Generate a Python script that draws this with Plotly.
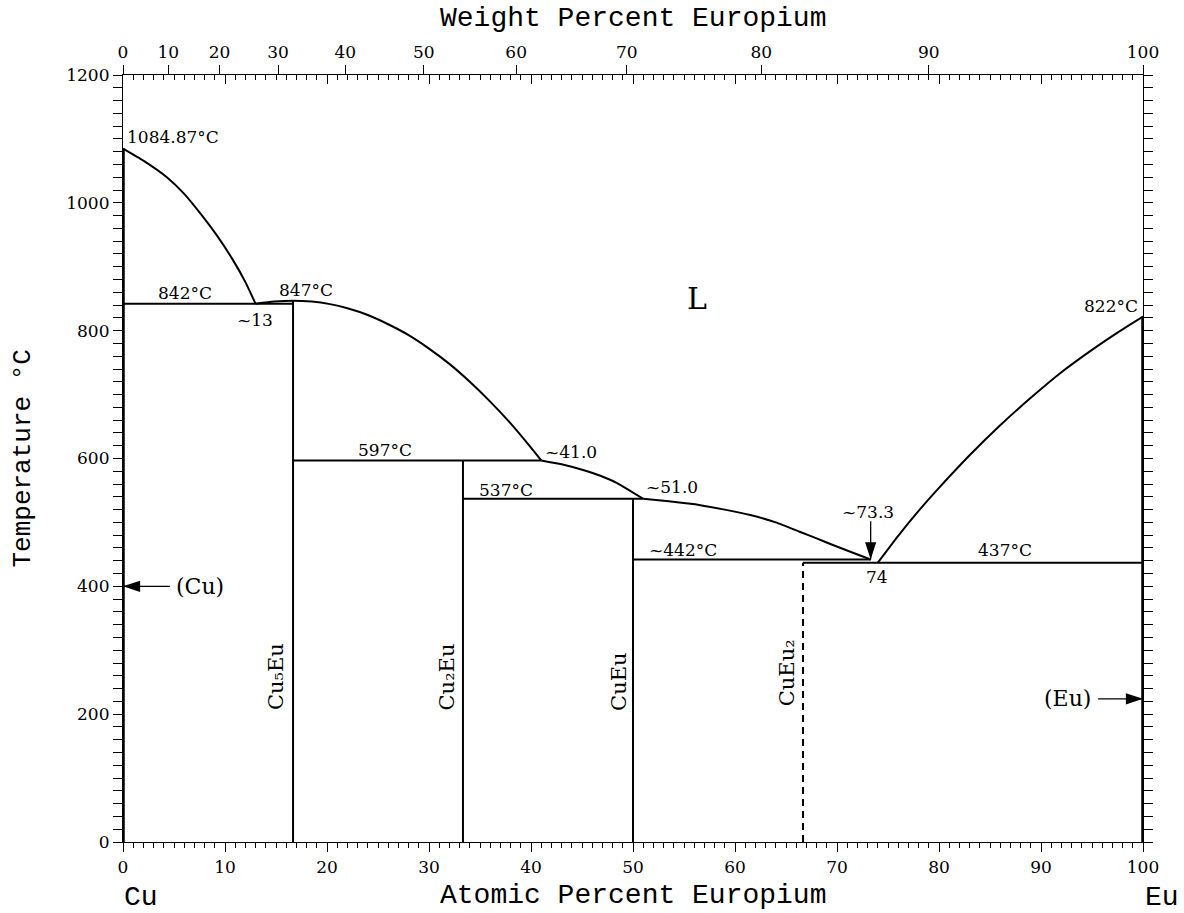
import plotly.graph_objects as go

# ---------------- data (atomic % Eu, temperature °C) ----------------
cu_liq_x = [0.0, 2.0, 4.3, 6.0, 7.6, 9.2, 10.8, 12.0, 13.0]
cu_liq_t = [1084.87, 1066, 1040, 1014, 983, 949, 910, 876, 842]

cu5eu_liq_x = [13.0, 14.8, 16.7, 18.5, 20.3, 22.0, 24.0, 26.0, 28.0, 30.0, 32.0, 34.0, 36.0, 38.0, 40.0, 41.0]
cu5eu_liq_t = [842, 845.5, 847, 845.6, 841.5, 835, 824.5, 810, 793, 772, 748, 720, 689, 655, 617, 597]

cu2eu_liq_x = [41.0, 43.0, 45.1, 46.8, 48.4, 51.0]
cu2eu_liq_t = [597, 591, 582, 573, 562, 537]

cueu_liq_x = [51.0, 53.5, 56.6, 59.0, 61.5, 64.0, 66.4, 68.0, 69.6, 71.5, 73.3]
cueu_liq_t = [537, 533, 527, 520, 511.6, 500, 485, 475, 464.6, 453, 442]

eu_liq_x = [74.0, 76.0, 78.0, 80.0, 83.0, 86.0, 89.0, 92.0, 95.0, 97.5, 100.0]
eu_liq_t = [437, 479, 518, 554, 605, 652, 695, 735, 770, 797, 822]

# invariant horizontals
iso_t = [842, 597, 537, 442, 437]
iso_x0 = [0.0, 16.67, 33.33, 50.0, 66.67]
iso_x1 = [16.67, 41.0, 51.0, 73.3, 100.0]

# compounds (vertical lines)
comp_names = ["Cu₅Eu", "Cu₂Eu", "CuEu", "CuEu₂"]
comp_x = [16.67, 33.33, 50.0, 66.67]
comp_top = [847, 597, 537, 437]
comp_dashed = [False, False, False, True]
comp_label_x = [15.0, 31.8, 48.6, 65.1]
comp_label_t = [258, 258, 250, 264]

# pure elements
pure_x = [0.0, 100.0]
pure_top = [1084.87, 822]

# weight-percent ticks
wt_ticks = [0, 10, 20, 30, 40, 50, 60, 70, 80, 90, 100]
M_CU, M_EU = 63.546, 151.964

# text labels: (text, x, y, xanchor)
labels = [
    ("1084.87°C", 0.2, 1103, "left"),
    ("842°C", 6.1, 859, "center"),
    ("~13", 12.9, 817, "center"),
    ("847°C", 17.9, 864, "center"),
    ("822°C", 99.7, 838, "right"),
    ("597°C", 25.7, 613, "center"),
    ("~41.0", 41.2, 610, "left"),
    ("537°C", 37.5, 551, "center"),
    ("~51.0", 51.1, 555, "left"),
    ("~442°C", 54.9, 457, "center"),
    ("~73.3", 73.0, 516, "center"),
    ("74", 73.9, 414, "center"),
    ("437°C", 86.5, 457, "center"),
]
phase_labels = [("(Cu)", 7.5, 399), ("(Eu)", 92.6, 224)]

# arrows: head (x, t), tail (x, t), head direction angle
arrow_head_x = [0.0, 100.0, 73.3]
arrow_head_t = [400, 224, 442]
arrow_tail_x = [4.6, 95.6, 73.3]
arrow_tail_t = [400, 224, 502]
arrow_angle = [270, 90, 180]


def wt_to_at(w):
    a = w / M_EU
    c = (100 - w) / M_CU
    return 100 * a / (a + c)


fig = go.Figure()

LINE = dict(color="black", width=2)

for xs, ts in [(cu_liq_x, cu_liq_t), (cu5eu_liq_x, cu5eu_liq_t), (cu2eu_liq_x, cu2eu_liq_t),
               (cueu_liq_x, cueu_liq_t), (eu_liq_x, eu_liq_t)]:
    fig.add_trace(go.Scatter(x=xs, y=ts, mode="lines",
                             line=dict(color="black", width=2, shape="spline", smoothing=0.5),
                             showlegend=False, hoverinfo="skip"))

for t, x0, x1 in zip(iso_t, iso_x0, iso_x1):
    fig.add_trace(go.Scatter(x=[x0, x1], y=[t, t], mode="lines", line=LINE, showlegend=False, hoverinfo="skip"))

for x, top, d in zip(comp_x, comp_top, comp_dashed):
    fig.add_trace(go.Scatter(x=[x, x], y=[0, top], mode="lines",
                             line=dict(color="black", width=2, dash="7px,5px" if d else "solid"),
                             showlegend=False, hoverinfo="skip"))

for x, top in zip(pure_x, pure_top):
    fig.add_trace(go.Scatter(x=[x, x], y=[0, top], mode="lines", line=dict(color="black", width=3.5),
                             showlegend=False, hoverinfo="skip"))

# arrows drawn as line + arrow marker
for hx, ht, tx, tt, ang in zip(arrow_head_x, arrow_head_t, arrow_tail_x, arrow_tail_t, arrow_angle):
    fig.add_trace(go.Scatter(x=[tx, hx], y=[tt, ht], mode="lines", line=dict(color="black", width=1.3),
                             showlegend=False, hoverinfo="skip"))
    fig.add_trace(go.Scatter(x=[hx], y=[ht], mode="markers",
                             marker=dict(symbol="arrow", angle=ang, size=18, color="black",
                                         line=dict(width=0)),
                             showlegend=False, hoverinfo="skip"))

# dummy traces for overlay top axes
fig.add_trace(go.Scatter(x=[None], y=[None], mode="lines", xaxis="x2", yaxis="y", showlegend=False,
                         hoverinfo="skip"))
fig.add_trace(go.Scatter(x=[None], y=[None], mode="lines", xaxis="x3", yaxis="y", showlegend=False,
                         hoverinfo="skip"))

SERIF = "DejaVu Serif, serif"
MONO = "Liberation Mono, monospace"

ann = []
for txt, x, y, xa in labels:
    ann.append(dict(x=x, y=y, xref="x", yref="y", text=txt, showarrow=False, xanchor=xa, yanchor="middle",
                    font=dict(family=SERIF, size=17, color="black")))
for txt, x, y in phase_labels:
    ann.append(dict(x=x, y=y, xref="x", yref="y", text=txt, showarrow=False, xanchor="center",
                    yanchor="middle", font=dict(family=SERIF, size=22, color="black")))

ann.append(dict(x=56.3, y=851, xref="x", yref="y", text="L", showarrow=False,
                font=dict(family=SERIF, size=30, color="black")))

for name, x, y in zip(comp_names, comp_label_x, comp_label_t):
    ann.append(dict(x=x, y=y, xref="x", yref="y", text=name, showarrow=False, textangle=-90,
                    xanchor="center", yanchor="middle", font=dict(family=SERIF, size=21, color="black")))

# axis titles & element labels
ann += [
    dict(x=0.5, y=-0.07, xref="paper", yref="paper", text="Atomic Percent Europium", showarrow=False,
         xanchor="center", yanchor="middle", font=dict(family=MONO, size=28, color="black")),
    dict(x=0.5, y=1.0743, xref="paper", yref="paper", text="Weight Percent Europium", showarrow=False,
         xanchor="center", yanchor="middle", font=dict(family=MONO, size=28, color="black")),
    dict(x=-0.099, y=0.5, xref="paper", yref="paper", text="Temperature °C", showarrow=False, textangle=-90,
         xanchor="center", yanchor="middle", font=dict(family=MONO, size=26, color="black")),
    dict(x=0.0176, y=-0.072, xref="paper", yref="paper", text="Cu", showarrow=False,
         xanchor="center", yanchor="middle", font=dict(family=MONO, size=28, color="black")),
    dict(x=1.019, y=-0.072, xref="paper", yref="paper", text="Eu", showarrow=False,
         xanchor="center", yanchor="middle", font=dict(family=MONO, size=28, color="black")),
]

TICKFONT = dict(family=SERIF, size=17, color="black")

fig.update_layout(
    width=1184, height=913,
    margin=dict(l=123, r=41, t=75, b=71),
    paper_bgcolor="white", plot_bgcolor="white",
    showlegend=False,
    annotations=ann,
    xaxis=dict(range=[0, 100], tickmode="linear", tick0=0, dtick=10, ticks="outside", ticklen=9,
               tickwidth=1, tickcolor="black", showline=True, linecolor="black", linewidth=1.2,
               showgrid=False, zeroline=False, tickfont=TICKFONT,
               minor=dict(dtick=1, ticks="outside", ticklen=5, tickcolor="black", showgrid=False)),
    xaxis2=dict(overlaying="x", side="top", range=[0, 100], tickmode="array",
                tickvals=[wt_to_at(w) for w in wt_ticks], ticktext=[str(w) for w in wt_ticks],
                ticks="outside", ticklen=9, tickcolor="black", showline=True, linecolor="black",
                linewidth=1.2, showgrid=False, zeroline=False, tickfont=TICKFONT),
    xaxis3=dict(overlaying="x", side="top", range=[0, 100], tickmode="linear", tick0=0, dtick=10,
                ticks="inside", ticklen=9, tickcolor="black", showticklabels=False, showline=False,
                showgrid=False, zeroline=False,
                minor=dict(dtick=1, ticks="inside", ticklen=5, tickcolor="black", showgrid=False)),
    yaxis=dict(range=[0, 1200], tickmode="linear", tick0=0, dtick=200, ticks="outside", ticklen=9,
               tickcolor="black", showline=True, linecolor="black", linewidth=1.2, showgrid=False,
               zeroline=False, tickfont=TICKFONT, mirror="allticks",
               minor=dict(dtick=20, ticks="outside", ticklen=5, tickcolor="black", showgrid=False)),
)

fig.write_html("out.html", config={"displayModeBar": False},
               post_script="document.body.style.margin='0';")
